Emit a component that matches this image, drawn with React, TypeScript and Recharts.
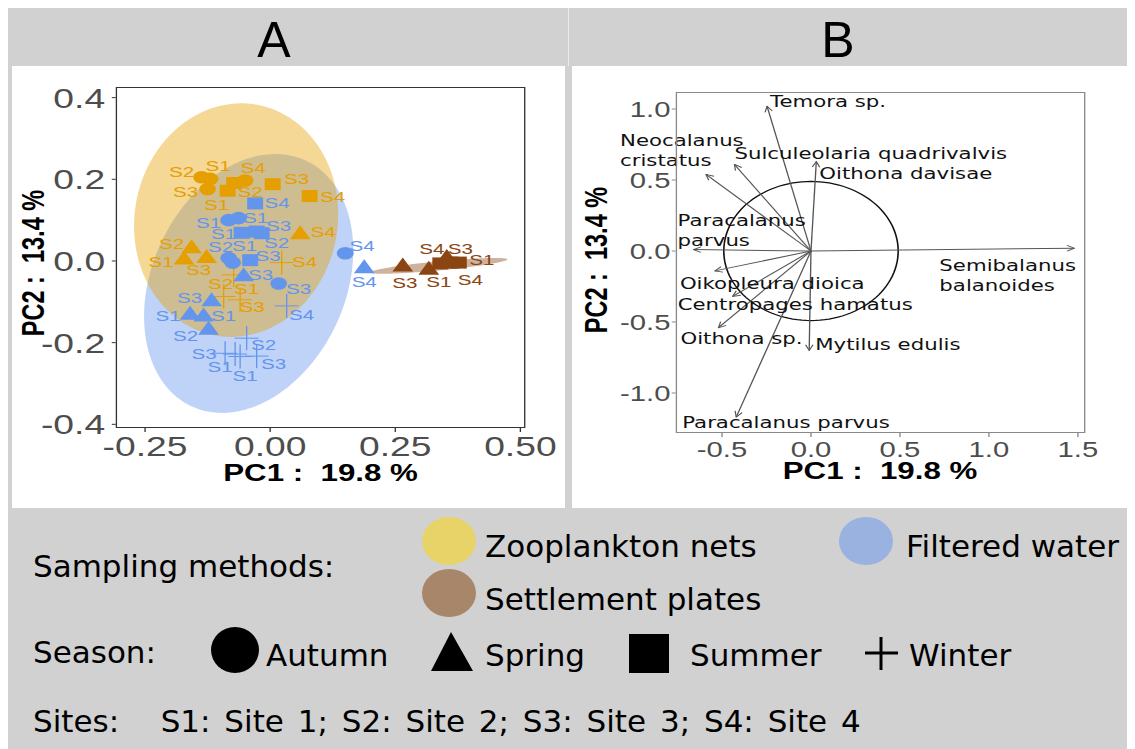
import React from "react";
import { ComposedChart, Scatter, Area, Line, XAxis, YAxis } from "recharts";

// the exported figure is widened horizontally; charts are drawn narrow and stretched
const STRETCH = 1.33;

const ORANGE = "#E69F00";
const BLUE = "#6495ED";
const BROWN = "#8B4513";

// PCA sample scores, one list per sampling method
const netsScores = [
  { pc1: -0.137, pc2: 0.205, season: "Autumn", site: "S2" },
  { pc1: -0.12, pc2: 0.201, season: "Autumn", site: "S1" },
  { pc1: -0.125, pc2: 0.176, season: "Autumn", site: "S3" },
  { pc1: -0.05, pc2: 0.197, season: "Autumn", site: "S4" },
  { pc1: -0.085, pc2: 0.172, season: "Summer", site: "S1" },
  { pc1: -0.072, pc2: 0.191, season: "Summer", site: "S2" },
  { pc1: 0.005, pc2: 0.188, season: "Summer", site: "S3" },
  { pc1: 0.079, pc2: 0.159, season: "Summer", site: "S4" },
  { pc1: -0.157, pc2: 0.035, season: "Spring", site: "S2" },
  { pc1: -0.172, pc2: 0.007, season: "Spring", site: "S1" },
  { pc1: -0.127, pc2: 0.011, season: "Spring", site: "S3" },
  { pc1: 0.06, pc2: 0.069, season: "Spring", site: "S4" },
  { pc1: 0.023, pc2: -0.004, season: "Winter", site: "S4" },
  { pc1: -0.073, pc2: -0.034, season: "Winter", site: "S2" },
  { pc1: -0.06, pc2: -0.095, season: "Winter", site: "S3" },
  { pc1: -0.093, pc2: -0.087, season: "Winter", site: "S1" },
];

const filteredScores = [
  { pc1: -0.083, pc2: 0.1, season: "Autumn", site: "S1" },
  { pc1: -0.063, pc2: 0.105, season: "Autumn", site: "S1" },
  { pc1: -0.083, pc2: 0.007, season: "Autumn", site: "S2" },
  { pc1: -0.075, pc2: -0.004, season: "Autumn", site: "S1" },
  { pc1: 0.017, pc2: -0.055, season: "Autumn", site: "S3" },
  { pc1: 0.15, pc2: 0.019, season: "Autumn", site: "S4" },
  { pc1: -0.03, pc2: 0.141, season: "Summer", site: "S4" },
  { pc1: -0.057, pc2: 0.069, season: "Summer", site: "S1" },
  { pc1: -0.027, pc2: 0.072, season: "Summer", site: "S3" },
  { pc1: -0.017, pc2: 0.068, season: "Summer", site: "S2" },
  { pc1: -0.04, pc2: 0.002, season: "Summer", site: "S3" },
  { pc1: -0.053, pc2: -0.034, season: "Spring", site: "S3" },
  { pc1: -0.117, pc2: -0.095, season: "Spring", site: "S3" },
  { pc1: -0.16, pc2: -0.128, season: "Spring", site: "S1" },
  { pc1: -0.133, pc2: -0.132, season: "Spring", site: "S1" },
  { pc1: -0.123, pc2: -0.165, season: "Spring", site: "S2" },
  { pc1: 0.188, pc2: -0.014, season: "Spring", site: "S4" },
  { pc1: 0.033, pc2: -0.11, season: "Winter", site: "S4" },
  { pc1: -0.047, pc2: -0.189, season: "Winter", site: "S2" },
  { pc1: -0.09, pc2: -0.226, season: "Winter", site: "S3" },
  { pc1: -0.07, pc2: -0.228, season: "Winter", site: "S1" },
  { pc1: -0.06, pc2: -0.234, season: "Winter", site: "S1" },
  { pc1: -0.027, pc2: -0.233, season: "Winter", site: "S3" },
];

const platesScores = [
  { pc1: 0.265, pc2: -0.01, season: "Spring", site: "S3" },
  { pc1: 0.317, pc2: -0.018, season: "Spring", site: "S1" },
  { pc1: 0.353, pc2: 0.011, season: "Spring", site: "S4" },
  { pc1: 0.34, pc2: -0.006, season: "Summer", site: "S3" },
  { pc1: 0.36, pc2: -0.004, season: "Summer", site: "S4" },
  { pc1: 0.377, pc2: -0.004, season: "Summer", site: "S1" },
];

// site label offsets from each point (px)
const netsNudge = [
  [-20, -6], [8, -13], [-22, 2], [8, -13], [-11, 14], [16, 9], [24, -6], [23, 0],
  [-20, -3], [-23, 3], [-8, 13], [23, -1], [23, -1], [-13, 9], [12, 7], [23, -8],
];
const filteredNudge = [
  [-20, 2], [17, -1], [-8, -12], [12, -17], [20, 5], [17, -8], [22, -1], [-18, 1],
  [22, -6], [15, 9], [18, -5], [17, 0], [-22, -2], [-22, 2], [20, 1], [-23, 7],
  [0, 15], [15, 9], [17, 6], [-21, 0], [-15, 12], [5, 19], [17, 7],
];
const platesNudge = [[2, 17], [10, 13], [-15, -8], [20, -15], [20, 17], [23, -3]];

// 95% ellipses per sampling method: centre, half-extent on each axis, correlation
const netsEllipse = { cx: -0.068, cy: 0.1, sx: 0.204, sy: 0.286, rho: 0.05 };
const filteredEllipse = { cx: -0.043, cy: -0.055, sx: 0.209, sy: 0.317, rho: 0.255 };
const platesEllipse = { cx: 0.337, cy: -0.012, sx: 0.137, sy: 0.0194, rho: 0.82 };

const scoreTicksX = [-0.25, 0, 0.25, 0.5];
const scoreTicksY = [-0.4, -0.2, 0, 0.2, 0.4];

// species loadings on PC1 / PC2
const loadings = [
  { label: ["Temora sp."], pc1: -0.247, pc2: 1.02 },
  { label: ["Neocalanus", "cristatus"], pc1: -0.59, pc2: 0.54 },
  { label: ["Sulculeolaria quadrivalvis"], pc1: -0.43, pc2: 0.61 },
  { label: ["Oithona davisae"], pc1: 0.03, pc2: 0.63 },
  { label: ["Paracalanus", "parvus"], pc1: -0.66, pc2: 0.01 },
  { label: ["Semibalanus", "balanoides"], pc1: 1.48, pc2: 0.02 },
  { label: ["Oikopleura dioica"], pc1: -0.54, pc2: -0.14 },
  { label: ["Centropages hamatus"], pc1: -0.44, pc2: -0.32 },
  { label: ["Oithona sp."], pc1: -0.52, pc2: -0.54 },
  { label: ["Mytilus edulis"], pc1: -0.01, pc2: -0.7 },
  { label: ["Paracalanus parvus"], pc1: -0.42, pc2: -1.17 },
];
const loadingNudge = [
  [3, -5], [-86, -34], [0, -11], [3, 12], [-16, -30], [-135, 17],
  [-35, 12], [-55, 8], [-38, 10], [6, -6], [-54, 5],
];
const corrCircleRadius = 0.49;

const loadTicksX = [-0.5, 0, 0.5, 1, 1.5];
const loadTicksY = [-1, -0.5, 0, 0.5, 1];

const ARIAL = "'Liberation Sans', Arial, sans-serif";
const DEJAVU = "'DejaVu Sans', Verdana, sans-serif";

const toRows = (scores, nudge) =>
  scores.map((s, i) => ({ x: s.pc1, y: s.pc2, season: s.season, site: s.site, nudge: nudge[i] }));

// vertical slices of an ellipse as [low, high] pairs for a range area
function ellipseBand(e) {
  const rows = [];
  const steps = 90;
  for (let i = 0; i <= steps; i++) {
    const u = -Math.cos((Math.PI * i) / steps);
    const mid = e.cy + e.rho * e.sy * u;
    const half = e.sy * Math.sqrt(1 - e.rho * e.rho) * Math.sqrt(Math.max(0, 1 - u * u));
    rows.push({ x: e.cx + e.sx * u, band: [mid - half, mid + half] });
  }
  return rows;
}

function circleRows(r) {
  const rows = [];
  for (let i = 0; i <= 120; i++) {
    const t = (2 * Math.PI * i) / 120;
    rows.push({ x: r * Math.cos(t), y: r * Math.sin(t) });
  }
  return rows;
}

function sampleShape(color) {
  return (props) => {
    const { cx, cy, payload } = props;
    const [dx, dy] = payload.nudge;
    let mark;
    if (payload.season === "Autumn") {
      mark = <circle cx={cx} cy={cy} r={6.3} fill={color} />;
    } else if (payload.season === "Spring") {
      mark = (
        <polygon
          points={`${cx - 7.8},${cy + 6.5} ${cx + 7.8},${cy + 6.5} ${cx},${cy - 7.5}`}
          fill={color}
        />
      );
    } else if (payload.season === "Summer") {
      mark = <rect x={cx - 6} y={cy - 6} width={12} height={12} fill={color} />;
    } else {
      mark = (
        <g stroke={color} strokeWidth={1}>
          <line x1={cx - 9} x2={cx + 9} y1={cy} y2={cy} />
          <line x1={cx} x2={cx} y1={cy - 12} y2={cy + 12} />
        </g>
      );
    }
    return (
      <g>
        {mark}
        <text
          x={cx + dx / STRETCH}
          y={cy + dy}
          fill={color}
          fontSize={15.5}
          fontFamily={ARIAL}
          textAnchor="middle"
          dominantBaseline="central"
        >
          {payload.site}
        </text>
      </g>
    );
  };
}

const titleStyle: React.CSSProperties = {
  position: "absolute",
  whiteSpace: "pre",
  fontFamily: ARIAL,
  fontWeight: 700,
  fontSize: 23.5,
  color: "#000",
  lineHeight: 1,
};

function AxisTitles({ xAt, yAt }) {
  return (
    <>
      <div style={{ ...titleStyle, left: xAt[0], top: xAt[1], transform: "translate(-50%,-50%)" }}>
        {"PC1 :  19.8 %"}
      </div>
      <div
        style={{
          ...titleStyle,
          left: yAt[0],
          top: yAt[1],
          transform: "translate(-50%,-50%) rotate(-90deg)",
        }}
      >
        {"PC2 :  13.4 %"}
      </div>
    </>
  );
}

function ScoresPanel() {
  return (
    <div
      style={{
        position: "absolute",
        left: 4,
        top: 58,
        width: 416,
        height: 442,
        transform: `scaleX(${STRETCH})`,
        transformOrigin: "0 0",
      }}
    >
      <ComposedChart width={416} height={442} margin={{ top: 21, right: 30, bottom: 50, left: 40 }}>
        <XAxis
          type="number"
          dataKey="x"
          domain={[-0.3086, 0.51]}
          ticks={scoreTicksX}
          tickFormatter={(v) => v.toFixed(2)}
          axisLine={false}
          tickLine={{ stroke: "#333" }}
          tickSize={4}
          tickMargin={4}
          height={30}
          tick={{ fill: "#4D4D4D", fontSize: 28, fontFamily: ARIAL }}
        />
        <YAxis
          type="number"
          dataKey="y"
          domain={[-0.409, 0.426]}
          ticks={scoreTicksY}
          tickFormatter={(v) => v.toFixed(1)}
          axisLine={false}
          tickLine={{ stroke: "#333" }}
          tickSize={3}
          tickMargin={5}
          width={38}
          tick={{ fill: "#4D4D4D", fontSize: 28, fontFamily: ARIAL }}
        />
        <Area data={ellipseBand(filteredEllipse)} dataKey="band" type="linear" stroke="none"
          fill={BLUE} fillOpacity={0.41} dot={false} activeDot={false} isAnimationActive={false} />
        <Area data={ellipseBand(netsEllipse)} dataKey="band" type="linear" stroke="none"
          fill={ORANGE} fillOpacity={0.41} dot={false} activeDot={false} isAnimationActive={false} />
        <Area data={ellipseBand(platesEllipse)} dataKey="band" type="linear" stroke="none"
          fill={BROWN} fillOpacity={0.41} dot={false} activeDot={false} isAnimationActive={false} />
        <Scatter data={toRows(netsScores, netsNudge)} shape={sampleShape(ORANGE)} isAnimationActive={false} />
        <Scatter data={toRows(filteredScores, filteredNudge)} shape={sampleShape(BLUE)} isAnimationActive={false} />
        <Scatter data={toRows(platesScores, platesNudge)} shape={sampleShape(BROWN)} isAnimationActive={false} />
      </ComposedChart>
      <div
        style={{
          position: "absolute",
          left: 78,
          top: 21,
          width: 308,
          height: 341,
          border: "1px solid #333",
          boxSizing: "border-box",
          pointerEvents: "none",
        }}
      />
      <AxisTitles xAt={[232, 408]} yAt={[17.3, 197]} />
    </div>
  );
}

function loadingLabel(i) {
  const lines = loadings[i].label;
  const [dx, dy] = loadingNudge[i];
  return (props) => {
    const { cx, cy, index } = props;
    if (index !== 1) return <g key={`l${i}-${index}`} />;
    return (
      <text
        key={`l${i}-${index}`}
        x={cx + dx / STRETCH}
        y={cy + dy}
        fontSize={16}
        fontFamily={DEJAVU}
        fill="#111"
        dominantBaseline="central"
      >
        {lines.map((t, k) => (
          <tspan key={t} x={cx + dx / STRETCH} dy={k === 0 ? 0 : 20}>
            {t}
          </tspan>
        ))}
      </text>
    );
  };
}

function LoadingsPanel() {
  return (
    <div
      style={{
        position: "absolute",
        left: 564,
        top: 58,
        width: 420,
        height: 442,
        transform: `scaleX(${STRETCH})`,
        transformOrigin: "0 0",
      }}
    >
      <ComposedChart width={420} height={442} margin={{ top: 26, right: 34, bottom: 45, left: 40 }}>
        <defs>
          <marker
            id="loadArrow"
            viewBox="0 0 10 10"
            refX={9}
            refY={5}
            markerWidth={7}
            markerHeight={7}
            markerUnits="userSpaceOnUse"
            orient="auto"
          >
            <path d="M1,1 L9,5 L1,9" fill="none" stroke="#555" strokeWidth={1.3} />
          </marker>
        </defs>
        <XAxis
          type="number"
          dataKey="x"
          domain={[-0.76, 1.542]}
          ticks={loadTicksX}
          tickFormatter={(v) => v.toFixed(1)}
          axisLine={false}
          tickLine={{ stroke: "#888" }}
          tickSize={4}
          tickMargin={4}
          height={30}
          tick={{ fill: "#4D4D4D", fontSize: 22, fontFamily: ARIAL }}
        />
        <YAxis
          type="number"
          dataKey="y"
          domain={[-1.282, 1.12]}
          ticks={loadTicksY}
          tickFormatter={(v) => v.toFixed(1)}
          axisLine={false}
          tickLine={{ stroke: "#888" }}
          tickSize={3}
          tickMargin={1}
          width={38}
          tick={{ fill: "#4D4D4D", fontSize: 22, fontFamily: ARIAL }}
        />
        <Line data={circleRows(corrCircleRadius)} dataKey="y" type="linear" stroke="#111"
          strokeWidth={1.2} dot={false} activeDot={false} isAnimationActive={false} />
        {loadings.map((l, i) => (
          <Line
            key={l.label.join(" ") + i}
            data={[{ x: 0, y: 0 }, { x: l.pc1, y: l.pc2 }]}
            dataKey="y"
            type="linear"
            stroke="#555"
            strokeWidth={1}
            markerEnd="url(#loadArrow)"
            dot={loadingLabel(i)}
            activeDot={false}
            isAnimationActive={false}
          />
        ))}
      </ComposedChart>
      <div
        style={{
          position: "absolute",
          left: 78,
          top: 26,
          width: 308,
          height: 341,
          border: "1px solid #8a8a8a",
          boxSizing: "border-box",
          pointerEvents: "none",
        }}
      />
      <AxisTitles xAt={[231.6, 406]} yAt={[18.8, 194]} />
    </div>
  );
}

const legendText = { fontFamily: DEJAVU, fontSize: 31, fill: "#000" };

function Backdrop() {
  return (
    <svg width={1127} height={741} style={{ position: "absolute", left: 0, top: 0 }}>
      <g transform="translate(-8,-8)">
        <rect x={8} y={8} width={1127} height={741} fill="#D1D1D1" />
        <rect x={12} y={66} width={553} height={442} fill="#fff" />
        <rect x={572} y={66} width={559} height={442} fill="#fff" />
        <line x1={568.5} x2={568.5} y1={8} y2={66} stroke="#EAEAEA" />
        <text x={274} y={57} textAnchor="middle" fontFamily={ARIAL} fontSize={50}>A</text>
        <text x={838} y={57} textAnchor="middle" fontFamily={ARIAL} fontSize={50}>B</text>

        <text x={33} y={577} {...legendText}>Sampling methods:</text>
        <ellipse cx={449} cy={541} rx={27} ry={24} fill="#E8D368" />
        <text x={485} y={557} {...legendText}>Zooplankton nets</text>
        <ellipse cx={866} cy={541} rx={27} ry={24} fill="#99B2E0" />
        <text x={906} y={557} {...legendText}>Filtered water</text>
        <ellipse cx={449} cy={593} rx={27} ry={24} fill="#A8866A" />
        <text x={485} y={610} {...legendText}>Settlement plates</text>

        <text x={33} y={663} {...legendText}>Season:</text>
        <ellipse cx={235} cy={650} rx={24} ry={23} fill="#000" />
        <text x={266} y={666} {...legendText}>Autumn</text>
        <polygon points="431,671 473,671 451,632" fill="#000" />
        <text x={485} y={666} {...legendText}>Spring</text>
        <rect x={629} y={634} width={40} height={39} fill="#000" />
        <text x={690} y={666} {...legendText}>Summer</text>
        <g stroke="#000" strokeWidth={3}>
          <line x1={865} x2={898} y1={653} y2={653} />
          <line x1={881} x2={881} y1={637} y2={670} />
        </g>
        <text x={909} y={666} {...legendText}>Winter</text>

        <text x={33} y={732} {...legendText} wordSpacing={4} style={{ whiteSpace: "pre" }}>
          {"Sites:   S1: Site 1; S2: Site 2; S3: Site 3; S4: Site 4"}
        </text>
      </g>
    </svg>
  );
}

export default function App() {
  return (
    <div style={{ position: "relative", width: 1127, height: 741, overflow: "hidden" }}>
      <Backdrop />
      <ScoresPanel />
      <LoadingsPanel />
    </div>
  );
}
